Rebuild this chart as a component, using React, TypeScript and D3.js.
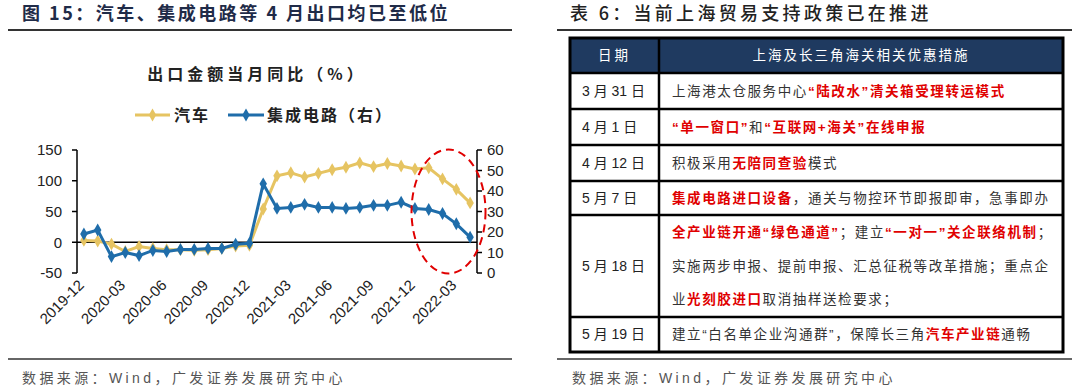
import React from 'react';
import * as d3 from 'd3';

// 出口金额当月同比（%）
const months = [
  '2019-12', '2020-01', '2020-02', '2020-03', '2020-04', '2020-05', '2020-06', '2020-07',
  '2020-08', '2020-09', '2020-10', '2020-11', '2020-12', '2021-01', '2021-02', '2021-03',
  '2021-04', '2021-05', '2021-06', '2021-07', '2021-08', '2021-09', '2021-10', '2021-11',
  '2021-12', '2022-01', '2022-02', '2022-03', '2022-04',
];
// 汽车 (left axis)
const autoYoy = [
  3, 2, -3, -15, -7, -10, -12, -12, -13, -12, -10, -6, -5, 54, 108, 113, 106, 112, 118,
  122, 129, 123, 128, 124, 119, 121, 103, 86, 64,
];
// 集成电路 (right axis)
const icYoy = [
  19, 21, 8, 10, 8.5, 11, 10.5, 11.5, 11.5, 12, 12, 14, 14.5, 43.5, 31.5, 32, 33.5, 32, 32,
  31.5, 32, 33, 33, 34.5, 31.5, 31, 29, 24, 17.5,
];
const leftTicks = [-50, 0, 50, 100, 150];
const rightTicks = [0, 10, 20, 30, 40, 50, 60];
const xLabels = [
  '2019-12', '2020-03', '2020-06', '2020-09', '2020-12', '2021-03', '2021-06', '2021-09',
  '2021-12', '2022-03',
];

const YELLOW = '#E6C462';
const BLUE = '#1F6DAA';
const RED = '#E00000';
const NAVY = '#1F3A60';
const SANS = '"Liberation Sans", "Noto Sans CJK SC", sans-serif';
const CJK = '"Noto Sans CJK SC", "Liberation Sans", sans-serif';

type Seg = { t: string; red?: boolean };
const tableDates = ['3 月 31 日', '4 月 1 日', '4 月 12 日', '5 月 7 日', '5 月 18 日', '5 月 19 日'];
const tableText: Seg[][][] = [
  [[{ t: '上海港太仓服务中心' }, { t: '“陆改水”清关箱受理转运模式', red: true }]],
  [[{ t: '“单一窗口”', red: true }, { t: '和' }, { t: '“互联网+海关”在线申报', red: true }]],
  [[{ t: '积极采用' }, { t: '无陪同查验', red: true }, { t: '模式' }]],
  [[{ t: '集成电路进口设备', red: true }, { t: '，通关与物控环节即报即审，急事即办' }]],
  [
    [{ t: '全产业链开通“绿色通道”', red: true }, { t: '；建立' }, { t: '“一对一”关企联络机制', red: true }, { t: '；' }],
    [{ t: '实施两步申报、提前申报、汇总征税等改革措施；重点企' }],
    [{ t: '业' }, { t: '光刻胶进口', red: true }, { t: '取消抽样送检要求；' }],
  ],
  [[{ t: '建立“白名单企业沟通群”，保障长三角' }, { t: '汽车产业链', red: true }, { t: '通畅' }]],
];
const rowLines = [38, 73, 109, 145, 181, 215, 317, 352];

const Chart = () => {
  const x = d3.scaleBand<string>().domain(months).range([77, 477]).padding(0);
  const xc = (m: string) => (x(m) ?? 0) + x.bandwidth() / 2;
  const yL = d3.scaleLinear().domain([-50, 150]).range([273, 150]);
  const yR = d3.scaleLinear().domain([0, 60]).range([273, 150]);

  const autoLine = d3.line<number>().x((_, i) => xc(months[i])).y((d) => yL(d));
  const icLine = d3.line<number>().x((_, i) => xc(months[i])).y((d) => yR(d));
  const diamond = d3.symbol().type(d3.symbolDiamond).size(48)();

  return (
    <g>
      {/* left axis */}
      <line x1={77} x2={77} y1={yL(150)} y2={yL(-50)} stroke="#000" strokeWidth={1.5} />
      {leftTicks.map((t) => (
        <g key={t}>
          <line x1={72} x2={77} y1={yL(t)} y2={yL(t)} stroke="#000" strokeWidth={1.5} />
          <text x={62} y={yL(t)} dy="0.35em" textAnchor="end" fontSize={15} fill="#222" fontFamily={SANS}>
            {t}
          </text>
        </g>
      ))}
      {/* right axis */}
      <line x1={477} x2={477} y1={yR(60)} y2={yR(0)} stroke="#000" strokeWidth={1.5} />
      {rightTicks.map((t) => (
        <g key={t}>
          <line x1={477} x2={482} y1={yR(t)} y2={yR(t)} stroke="#000" strokeWidth={1.5} />
          <text x={487} y={yR(t)} dy="0.35em" fontSize={15} fill="#222" fontFamily={SANS}>
            {t}
          </text>
        </g>
      ))}
      {/* zero line */}
      <line x1={77} x2={477} y1={yL(0)} y2={yL(0)} stroke="#000" strokeWidth={1.5} />
      {xLabels.map((m) => (
        <text
          key={m}
          transform={`translate(${xc(m) + 1},${286}) rotate(-45)`}
          textAnchor="end"
          fontSize={15}
          fill="#222"
          fontFamily={SANS}
        >
          {m}
        </text>
      ))}

      {/* series */}
      <path d={autoLine(autoYoy) ?? ''} fill="none" stroke={YELLOW} strokeWidth={3} />
      {autoYoy.map((v, i) => (
        <path key={i} d={diamond ?? ''} transform={`translate(${xc(months[i])},${yL(v)})`} fill={YELLOW} />
      ))}
      <path d={icLine(icYoy) ?? ''} fill="none" stroke={BLUE} strokeWidth={3} />
      {icYoy.map((v, i) => (
        <path key={i} d={diamond ?? ''} transform={`translate(${xc(months[i])},${yR(v)})`} fill={BLUE} />
      ))}

      {/* highlight */}
      <ellipse
        cx={xc(months[26]) + 6}
        cy={yR(30)}
        rx={37}
        ry={62}
        fill="none"
        stroke={RED}
        strokeWidth={2}
        strokeDasharray="8 5"
      />

      {/* title + legend */}
      <text x={257} y={74} dy="0.35em" textAnchor="middle" fontSize={16} fontWeight="bold" fill="#222" fontFamily={CJK} letterSpacing={4}>
        出口金额当月同比（%）
      </text>
      <line x1={135} x2={170} y1={115} y2={115} stroke={YELLOW} strokeWidth={3} />
      <path d={diamond ?? ''} transform="translate(152.5,115)" fill={YELLOW} />
      <text x={174} y={115} dy="0.35em" fontSize={16} fontWeight="bold" fill="#222" fontFamily={CJK} letterSpacing={2}>
        汽车
      </text>
      <line x1={228} x2={264} y1={115} y2={115} stroke={BLUE} strokeWidth={3} />
      <path d={diamond ?? ''} transform="translate(246,115)" fill={BLUE} />
      <text x={267} y={115} dy="0.35em" fontSize={16} fontWeight="bold" fill="#222" fontFamily={CJK} letterSpacing={2}>
        集成电路（右）
      </text>
    </g>
  );
};

const Table = () => {
  const left = 570;
  const mid = 659;
  const right = 1063;
  const rowMid = (i: number) => (rowLines[i + 1] + rowLines[i + 2]) / 2;
  return (
    <g>
      <rect x={left} y={rowLines[0]} width={right - left} height={rowLines[1] - rowLines[0]} fill={NAVY} />
      <text x={(left + mid) / 2} y={(rowLines[0] + rowLines[1]) / 2} dy="0.35em" textAnchor="middle" fill="#fff" fontSize={13.5} fontFamily={CJK} letterSpacing={3}>
        日期
      </text>
      <text x={(mid + right) / 2} y={(rowLines[0] + rowLines[1]) / 2} dy="0.35em" textAnchor="middle" fill="#fff" fontSize={13.5} fontFamily={CJK} letterSpacing={2}>
        上海及长三角海关相关优惠措施
      </text>
      {tableDates.map((d, i) => (
        <text key={d} x={582} y={rowMid(i)} dy="0.35em" fontSize={14} fill="#222" fontFamily={SANS}>
          {d}
        </text>
      ))}
      {tableText.map((lines, i) => {
        const n = lines.length;
        const gap = 33.5;
        return lines.map((segs, j) => (
          <text
            key={`${i}-${j}`}
            x={672}
            y={rowMid(i) + (j - (n - 1) / 2) * gap}
            dy="0.35em"
            fontSize={13.5}
            fontFamily={SANS}
            letterSpacing={1.6}
          >
            {segs.map((s, k) => (
              <tspan key={k} fill={s.red ? RED : '#333'} fontWeight={s.red ? 'bold' : 'normal'}>
                {s.t}
              </tspan>
            ))}
          </text>
        ));
      })}
      {rowLines.slice(1, -1).map((y) => (
        <line key={y} x1={left} x2={right} y1={y} y2={y} stroke="#000" strokeWidth={2.5} />
      ))}
      <line x1={mid} x2={mid} y1={rowLines[0]} y2={rowLines[rowLines.length - 1]} stroke="#000" strokeWidth={2.5} />
      <rect
        x={left}
        y={rowLines[0]}
        width={right - left}
        height={rowLines[rowLines.length - 1] - rowLines[0]}
        fill="none"
        stroke="#000"
        strokeWidth={3}
      />
    </g>
  );
};

export default function App() {
  return (
    <svg width={1080} height={390} style={{ position: 'absolute', left: 0, top: 0, background: '#fff' }}>
      <rect width={1080} height={390} fill="#fff" />
      {/* left panel */}
      <text x={22} y={14} dy="0.35em" fontSize={18} fontWeight="bold" fill="#1F2B48" fontFamily={CJK} letterSpacing={2.5}>
        图 15：汽车、集成电路等 4 月出口均已至低位
      </text>
      <line x1={8} x2={512} y1={30} y2={30} stroke="#333" strokeWidth={2} />
      <Chart />
      <line x1={8} x2={512} y1={359} y2={359} stroke="#333" strokeWidth={1.5} />
      <text x={22} y={378} dy="0.35em" fontSize={14} fill="#555" fontFamily={SANS} letterSpacing={3.4}>
        数据来源：Wind，广发证券发展研究中心
      </text>

      {/* right panel */}
      <text x={570} y={14} dy="0.35em" fontSize={18} fontWeight={500} fill="#222" fontFamily={CJK} letterSpacing={3.3}>
        表 6：当前上海贸易支持政策已在推进
      </text>
      <line x1={557} x2={1072} y1={30} y2={30} stroke="#333" strokeWidth={2} />
      <Table />
      <line x1={557} x2={1072} y1={359} y2={359} stroke="#333" strokeWidth={1.5} />
      <text x={572} y={378} dy="0.35em" fontSize={14} fill="#555" fontFamily={SANS} letterSpacing={3.4}>
        数据来源：Wind，广发证券发展研究中心
      </text>
    </svg>
  );
}
